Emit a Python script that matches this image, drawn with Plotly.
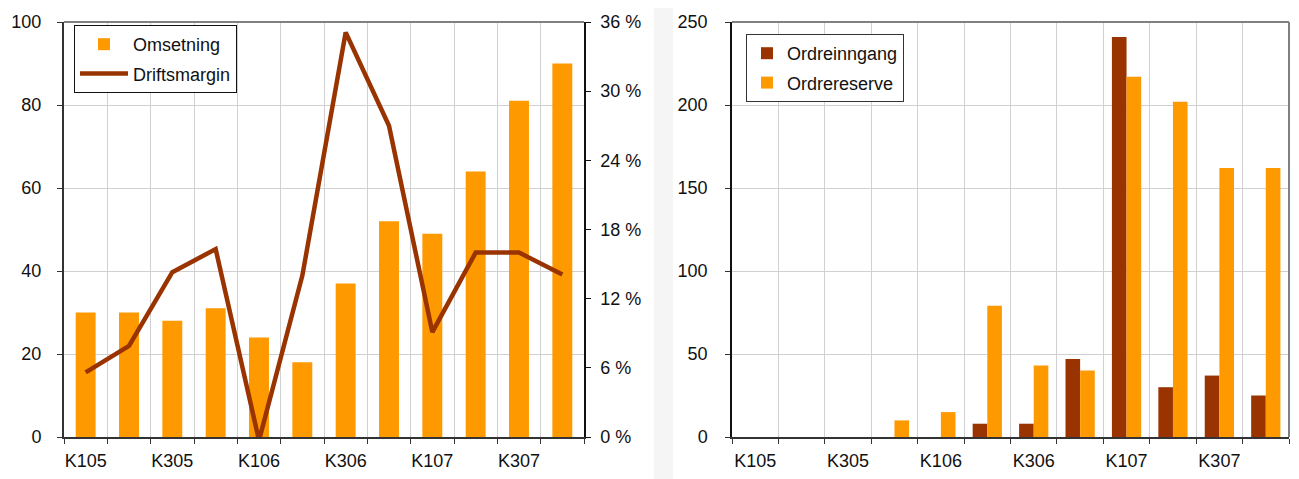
import plotly.graph_objects as go

# kvartaler
categories = ["K105", "K205", "K305", "K405", "K106", "K206",
              "K306", "K406", "K107", "K207", "K307", "K407"]
tick_text = [c if i % 2 == 0 else "" for i, c in enumerate(categories)]

# venstre panel
omsetning = [30, 30, 28, 31, 24, 18, 37, 52, 49, 64, 81, 90]
driftsmargin = [5.6, 7.9, 14.3, 16.3, -0.3, 14.0, 35.1, 27.0, 9.1, 16.0, 16.0, 14.1]

# høyre panel
ordreinngang = [0, 0, 0, 0, 0, 8, 8, 47, 241, 30, 37, 25]
ordrereserve = [0, 0, 0, 10, 15, 79, 43, 40, 217, 202, 162, 162]

ORANGE = "#ff9900"
BROWN = "#993300"
GRID = "#d0d0d0"
FONT = dict(family="Liberation Sans, Arial, sans-serif", size=18, color="#111")

# siden har 8px body-marg, så figuren er litt mindre enn vinduet
OFF = 8
W, H = 1299 - OFF, 479 - OFF


def px(x):
    return (x - OFF) / W


def py(y):
    return 1 - (y - OFF) / H


y_dom = [py(437), py(22)]

fig = go.Figure()

fig.add_trace(go.Bar(
    x=categories, y=omsetning, name="Omsetning",
    marker=dict(color=ORANGE, line=dict(width=0)),
    width=0.46, xaxis="x", yaxis="y", legend="legend", legendgroup="a",
))
fig.add_trace(go.Scatter(
    x=categories, y=driftsmargin, name="Driftsmargin", mode="lines",
    line=dict(color=BROWN, width=4.5),
    xaxis="x", yaxis="y2", legend="legend", legendgroup="b",
))
fig.add_trace(go.Bar(
    x=categories, y=ordreinngang, name="Ordreinngang",
    marker=dict(color=BROWN, line=dict(width=0)),
    xaxis="x2", yaxis="y3", legend="legend2", legendgroup="c",
))
fig.add_trace(go.Bar(
    x=categories, y=ordrereserve, name="Ordrereserve",
    marker=dict(color=ORANGE, line=dict(width=0)),
    xaxis="x2", yaxis="y3", legend="legend2", legendgroup="d",
))

xaxis_common = dict(
    type="category", tickmode="array", tickvals=categories, ticktext=tick_text,
    tickson="boundaries", ticks="outside", ticklen=5, tickcolor="#333",
    tickangle=0, automargin=False,
    showgrid=True, gridcolor=GRID, gridwidth=1,
    showline=True, linecolor="#333", linewidth=2,
    tickfont=FONT, ticklabelstandoff=6, zeroline=False,
)

fig.update_layout(
    width=W, height=H,
    margin=dict(l=0, r=0, t=0, b=0),
    paper_bgcolor="#f5f5f5",
    plot_bgcolor="white",
    barmode="group",
    bargap=0.37,
    font=FONT,
    xaxis=dict(domain=[px(64), px(584)], anchor="y", **xaxis_common),
    yaxis=dict(
        domain=y_dom, range=[0, 100], dtick=20, anchor="x", automargin=False,
        ticks="outside", ticklen=5, tickcolor="#333",
        showgrid=True, gridcolor=GRID, showline=True, linecolor="#333", linewidth=2,
        tickfont=FONT, ticklabelstandoff=12, zeroline=False,
    ),
    yaxis2=dict(
        overlaying="y", side="right", anchor="x", range=[0, 36], dtick=6,
        automargin=False,
        ticksuffix=" %", ticks="outside", ticklen=5, tickcolor="#111",
        showgrid=False, showline=True, linecolor="#111", linewidth=1.5,
        tickfont=FONT, ticklabelstandoff=6, zeroline=False,
    ),
    xaxis2=dict(domain=[px(732), px(1289)], anchor="y3", **xaxis_common),
    yaxis3=dict(
        domain=y_dom, range=[0, 250], dtick=50, anchor="x2", automargin=False,
        ticks="outside", ticklen=5, tickcolor="#333",
        showgrid=True, gridcolor=GRID, showline=True, linecolor="#111", linewidth=1.5,
        tickfont=FONT, ticklabelstandoff=14, zeroline=False,
    ),
    legend=dict(
        x=px(74), y=py(25), xanchor="left", yanchor="top",
        bgcolor="white", bordercolor="#111", borderwidth=1,
        font=FONT, traceorder="grouped", tracegroupgap=3, itemwidth=48,
    ),
    legend2=dict(
        x=px(746), y=py(34), xanchor="left", yanchor="top",
        bgcolor="white", bordercolor="#333", borderwidth=1,
        font=FONT, traceorder="grouped", tracegroupgap=3,
    ),
    shapes=[
        # hvite paneler
        dict(type="rect", xref="paper", yref="paper", x0=0, x1=px(654),
             y0=0, y1=1, fillcolor="white", line=dict(width=0), layer="below"),
        dict(type="rect", xref="paper", yref="paper", x0=px(673), x1=1,
             y0=0, y1=1, fillcolor="white", line=dict(width=0), layer="below"),
        # grå topp/høyre kant
        dict(type="line", xref="x domain", yref="y domain", x0=0, x1=1, y0=1, y1=1,
             line=dict(color="#808080", width=2)),
        dict(type="line", xref="x2 domain", yref="y3 domain", x0=0, x1=1, y0=1, y1=1,
             line=dict(color="#808080", width=2)),
        dict(type="line", xref="x2 domain", yref="y3 domain", x0=1, x1=1, y0=0, y1=1,
             line=dict(color="#808080", width=2)),
    ],
)

fig.write_html("out.html")
